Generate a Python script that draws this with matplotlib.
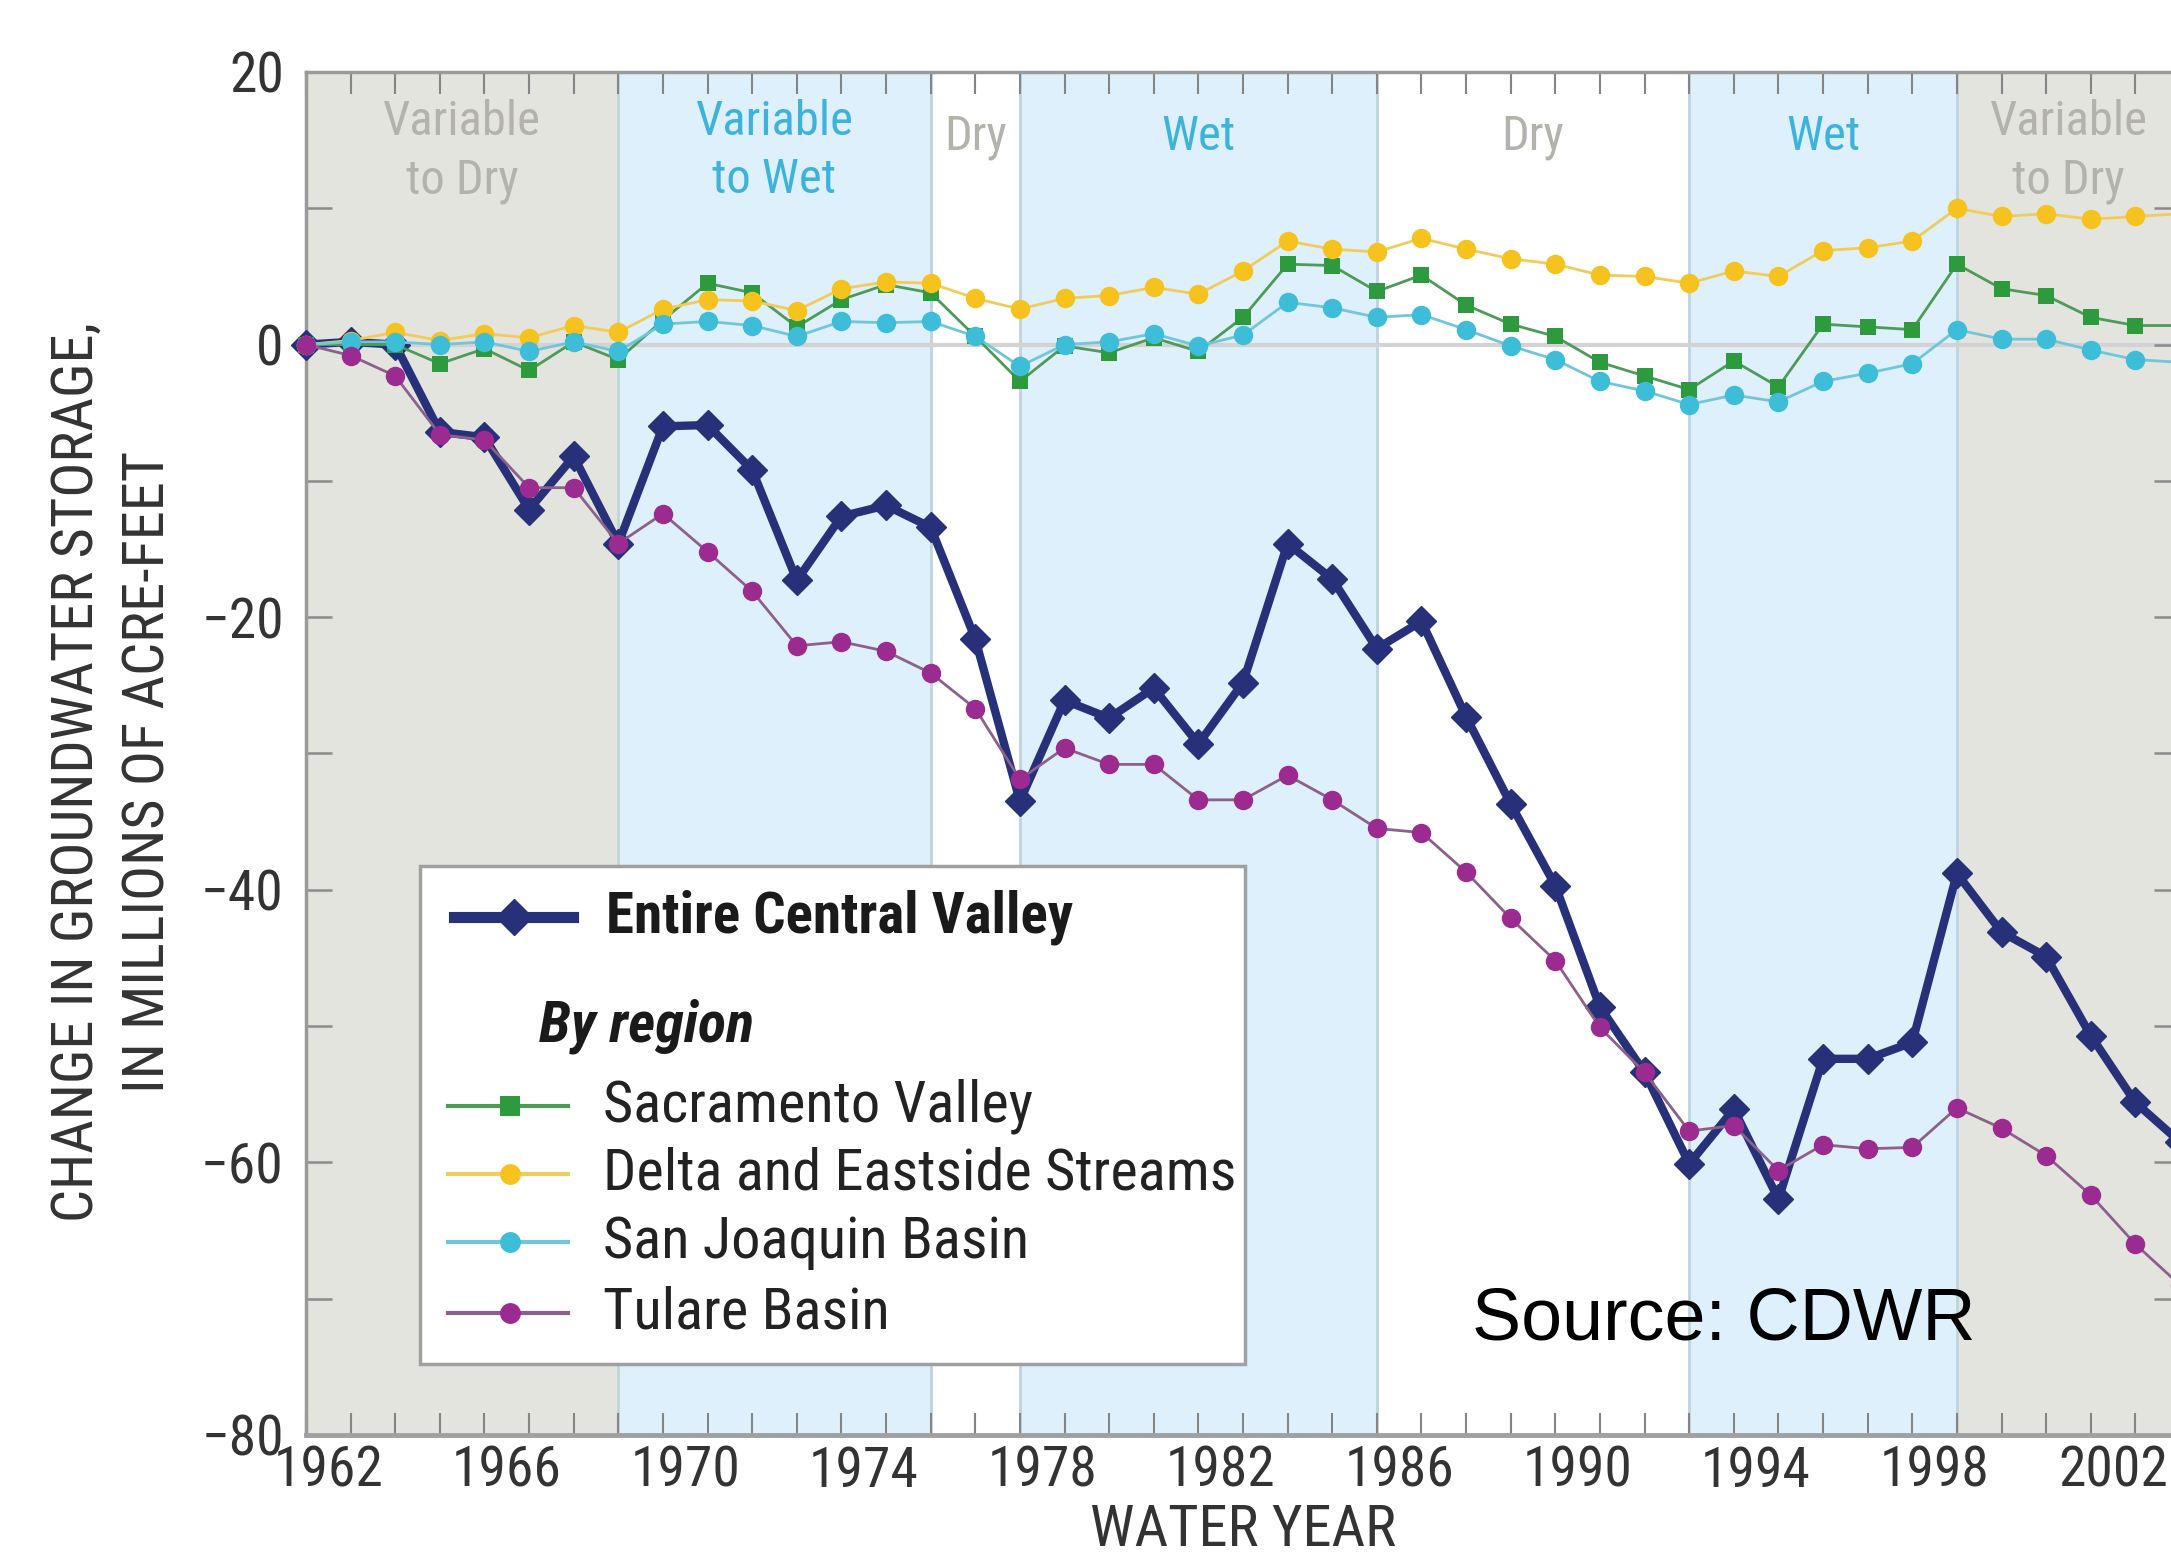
import matplotlib
matplotlib.use("Agg")
import matplotlib.pyplot as plt
from matplotlib import font_manager
from matplotlib.lines import Line2D
from matplotlib.patches import Rectangle
from matplotlib.transforms import Affine2D

# water years (points sit on the year boundaries)
years = list(range(1962, 2005))

central_valley = [0, 0.2, 0, -6.4, -6.8, -12.1, -8.2, -14.6, -6.0, -5.9, -9.2, -17.3, -12.6, -11.8,
                  -13.4, -21.6, -33.5, -26.1, -27.4, -25.2, -29.3, -24.8, -14.6, -17.2, -22.3, -20.3,
                  -27.3, -33.7, -39.7, -48.6, -53.4, -60.1, -56.1, -62.7, -52.4, -52.4, -51.2, -38.8,
                  -43.1, -44.9, -50.7, -55.6, -58.5]
sacramento = [0, 0, 0, -1.4, -0.3, -1.9, 0.2, -1.1, 1.8, 4.5, 3.8, 1.3, 3.3, 4.4, 3.8, 0.6, -2.7,
              -0.1, -0.6, 0.5, -0.5, 2.0, 5.9, 5.8, 3.9, 5.1, 2.9, 1.5, 0.6, -1.3, -2.3, -3.3, -1.2,
              -3.1, 1.5, 1.3, 1.1, 5.9, 4.1, 3.6, 2.0, 1.4, 1.4]
delta = [0, 0.3, 0.9, 0.3, 0.8, 0.5, 1.4, 0.9, 2.6, 3.3, 3.2, 2.5, 4.1, 4.6, 4.5, 3.4, 2.6, 3.4, 3.6,
         4.2, 3.7, 5.4, 7.6, 7.0, 6.8, 7.8, 7.0, 6.3, 5.9, 5.1, 5.0, 4.5, 5.4, 5.0, 6.9, 7.1, 7.6,
         10.0, 9.4, 9.6, 9.2, 9.4, 9.6]
san_joaquin = [0, 0.2, 0.2, 0, 0.2, -0.5, 0.2, -0.5, 1.5, 1.7, 1.4, 0.6, 1.7, 1.6, 1.7, 0.6, -1.6, 0,
               0.2, 0.8, -0.1, 0.7, 3.1, 2.7, 2.0, 2.2, 1.1, -0.1, -1.1, -2.7, -3.4, -4.4, -3.7, -4.2,
               -2.7, -2.1, -1.4, 1.1, 0.4, 0.4, -0.4, -1.1, -1.3]
tulare = [0, -0.8, -2.3, -6.6, -7.0, -10.5, -10.5, -14.6, -12.4, -15.2, -18.1, -22.1, -21.8, -22.5,
          -24.1, -26.7, -31.9, -29.6, -30.8, -30.8, -33.4, -33.4, -31.6, -33.4, -35.5, -35.8, -38.7,
          -42.1, -45.2, -50.1, -53.4, -57.7, -57.3, -60.6, -58.7, -59.0, -58.9, -56.0, -57.5, -59.5,
          -62.4, -66.0, -69.0]

period_starts = [1962, 1969, 1976, 1978, 1986, 1993, 1999]
period_ends = [1969, 1976, 1978, 1986, 1993, 1999, 2004]
period_names = ["Variable\nto Dry", "Variable\nto Wet", "Dry", "Wet", "Dry", "Wet", "Variable\nto Dry"]
period_kind = ["vdry", "vwet", "dry", "wet", "dry", "wet", "vdry"]

label_years = list(range(1962, 2003, 4))
region_labels = ["Sacramento Valley", "Delta and Eastside Streams", "San Joaquin Basin", "Tulare Basin"]

# pick a narrow face if there is one, else Liberation Sans a bit smaller
names = {f.name for f in font_manager.fontManager.ttflist}
cond, fs = ["DejaVu Sans"], 0.78
for name, scale in [("Liberation Sans Narrow", 1.0), ("Roboto Condensed", 1.0),
                    ("Open Sans Condensed", 1.0), ("Liberation Sans", 0.88)]:
    if name in names:
        cond, fs = [name, "DejaVu Sans"], scale
        break

W, H = 2171, 1564
fig = plt.figure(figsize=(W / 100, H / 100), dpi=100)
ax = fig.add_axes([306 / W, 129 / H, 1874 / W, 1363 / H])
pix = Affine2D().scale(1 / W, -1 / H).translate(0, 1) + fig.transFigure

fill = {"vdry": "#e3e4de", "vwet": "#ddf0fb", "wet": "#ddf0fb", "dry": "white"}
tcol = {"vdry": "#b3b3ab", "vwet": "#3db3dc", "wet": "#3db3dc", "dry": "#b3b3ab"}
for s, e, name, k in zip(period_starts, period_ends, period_names, period_kind):
    ax.axvspan(s, e, color=fill[k], lw=0, zorder=0)
    yy = 15.2 if "\n" not in name else 14.2
    ax.text((s + e) / 2, yy, name, ha="center", va="center", color=tcol[k],
            family=cond, fontsize=35 * fs, linespacing=1.35, zorder=1)
for s in period_starts[1:]:
    ax.axvline(s, color="#bfd3df", lw=2, zorder=0.5)
ax.axhline(0, color="#d3d3d3", lw=3, zorder=1)

ax.plot(years, central_valley, color="#26317a", lw=6, marker="D", ms=15, mec="#26317a",
        zorder=3, clip_on=False)
ax.plot(years, sacramento, color="#4e9a58", lw=2, marker="s", ms=12, mfc="#2e9a3e", mew=0,
        zorder=4, clip_on=False)
ax.plot(years, delta, color="#f0cc5a", lw=2, marker="o", ms=14, mfc="#f6c31e", mew=0,
        zorder=5, clip_on=False)
ax.plot(years, san_joaquin, color="#70c6da", lw=2, marker="o", ms=14, mfc="#3dbdd8", mew=0,
        zorder=6, clip_on=False)
ax.plot(years, tulare, color="#8d5f8b", lw=2, marker="o", ms=14, mfc="#9b2b91", mew=0,
        zorder=7, clip_on=False)

ax.set_xlim(1962, 2004)
ax.set_ylim(-80, 20)
ax.set_xticks([y + 0.5 for y in label_years])
ax.set_xticklabels([str(y) for y in label_years], family=cond, fontsize=40 * fs)
ax.set_xticks(years, minor=True)
ax.set_yticks(range(-80, 21, 20))
ax.set_yticklabels(["\u221280", "\u221260", "\u221240", "\u221220", "0", "20"], family=cond,
                   fontsize=40 * fs)
ax.set_yticks(range(-70, 20, 20), minor=True)
ax.tick_params(axis="x", which="major", length=0, pad=7, colors="#333333")
ax.tick_params(axis="x", which="minor", direction="in", top=True, bottom=True, length=16,
               width=1.5, color="#858585")
ax.tick_params(axis="y", which="both", direction="in", left=True, right=True, length=19,
               width=1.8, color="#8a8a8a")
ax.tick_params(axis="y", which="major", pad=16, labelcolor="#333333")
for side in ["left", "top", "right"]:
    ax.spines[side].set_color("#9a9a9a")
    ax.spines[side].set_linewidth(2.5)
ax.spines["bottom"].set_color("#a0a0a0")
ax.spines["bottom"].set_linewidth(3.5)

fig.text(113 / W, 1 - 772 / H, "CHANGE IN GROUNDWATER STORAGE,\nIN MILLIONS OF ACRE-FEET",
         rotation=90, ha="center", va="center", multialignment="center", family=cond,
         fontsize=42 * fs, color="#333333", linespacing=1.4)
fig.text(1243 / W, 1 - 1546 / H, "WATER YEAR", ha="center", va="baseline", family=cond,
         fontsize=42 * fs, color="#333333")

# legend box drawn by hand
fig.add_artist(Rectangle((420, 866), 825, 498, transform=pix, facecolor="white",
                         edgecolor="#a0a0a0", lw=2.5, zorder=10))
fig.add_artist(Line2D([454, 573], [917, 917], transform=pix, color="#26317a", lw=8, zorder=11))
fig.add_artist(Line2D([514], [917], transform=pix, color="#26317a", marker="D", ms=18,
                      zorder=11))
fig.text(606 / W, 1 - 917 / H, "Entire Central Valley", ha="left", va="center", family=cond,
         fontsize=41 * fs, fontweight="bold", color="#1a1a1a", zorder=12)
fig.text(539 / W, 1 - 1026 / H, "By region", ha="left", va="center", family=cond,
         fontsize=42 * fs, fontweight="bold", style="italic", color="#1a1a1a", zorder=12)
sample_y = [1106, 1174, 1242, 1313]
sample_style = [("#4e9a58", "#2e9a3e", "s"), ("#f0cc5a", "#f6c31e", "o"),
                ("#70c6da", "#3dbdd8", "o"), ("#8d5f8b", "#9b2b91", "o")]
for lab, yy, (lc, mc, mk) in zip(region_labels, sample_y, sample_style):
    fig.add_artist(Line2D([448, 568], [yy, yy], transform=pix, color=lc, lw=3, zorder=11))
    fig.add_artist(Line2D([510], [yy], transform=pix, color=mc, marker=mk, ms=15, mew=0,
                          zorder=11))
    fig.text(603 / W, 1 - yy / H, lab, ha="left", va="center", family=cond, fontsize=42 * fs,
             color="#222222", zorder=12)

fig.text(1472 / W, 1 - 1339 / H, "Source: CDWR", ha="left", va="baseline",
         family=["Liberation Sans", "DejaVu Sans"], fontsize=53, color="black", zorder=12)

fig.savefig("out.png", dpi=100)
